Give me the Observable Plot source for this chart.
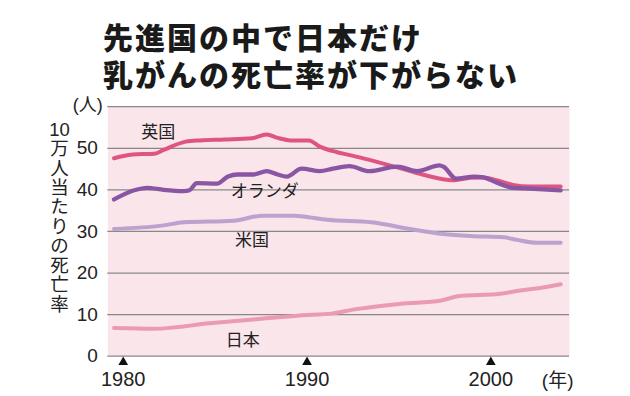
<!DOCTYPE html>
<html>
<head>
<meta charset="utf-8">
<script src="https://cdn.jsdelivr.net/npm/d3@7"></script>
<script src="https://cdn.jsdelivr.net/npm/@observablehq/plot@0.6"></script>
<style>
  html, body { margin: 0; padding: 0; background: #ffffff; }
  #wrap { width: 630px; height: 396px; position: relative; overflow: hidden; }
  #title {
    height: 95px; box-sizing: border-box; padding: 18px 0 0 103px;
    font-family: "Noto Sans CJK JP", sans-serif; font-weight: 900;
    font-size: 30px; color: #1a1a1a; letter-spacing: 2px;
  }
  #title div { height: 37px; line-height: 37px; white-space: nowrap; }
</style>
</head>
<body>
<div id="wrap">
  <div id="title"><div>先進国の中で日本だけ</div><div>乳がんの死亡率が下がらない</div></div>
  <div id="chart"></div>
</div>
<script>
// ---- data (deaths per 100,000) ----
const ukYear = [1979.5, 1980.5, 1981.7, 1982.2, 1983.4, 1984.2, 1985.5, 1987.0, 1987.8, 1988.4, 1989.1, 1990.1, 1990.7, 1991.6, 1992.4, 1993.4, 1994.5, 1995.8, 1996.7, 1997.9, 1998.9, 1999.6, 2000.3, 2001.2, 2002.1, 2003.8];
const ukRate = [47.6, 48.5, 48.7, 49.6, 51.6, 51.9, 52.1, 52.4, 53.3, 52.5, 51.9, 51.9, 50.4, 49.1, 48.3, 47.2, 45.9, 44.3, 43.2, 42.3, 42.9, 43.0, 42.3, 41.2, 40.8, 40.8];

const nlYear = [1979.5, 1980.6, 1981.3, 1982.2, 1983.3, 1983.6, 1984.0, 1985.1, 1985.7, 1986.2, 1987.1, 1987.8, 1988.4, 1988.9, 1989.7, 1990.7, 1991.4, 1992.3, 1993.4, 1994.9, 1996.0, 1997.2, 1997.45, 1998.1, 1999.1, 1999.6, 2000.3, 2001.2, 2002.1, 2003.8];
const nlRate = [37.7, 39.9, 40.5, 40.0, 39.7, 39.9, 41.6, 41.5, 43.2, 43.7, 43.7, 44.5, 43.7, 43.2, 45.1, 44.5, 45.1, 45.7, 44.5, 45.6, 44.5, 45.9, 45.5, 42.7, 43.2, 43.0, 41.8, 40.5, 40.3, 39.9];

const usYear = [1979.5, 1982.1, 1983.3, 1986.0, 1987.6, 1989.3, 1989.8, 1991.1, 1993.5, 1995.6, 1997.4, 1998.9, 2000.7, 2001.4, 2002.5, 2003.8];
const usRate = [30.6, 31.4, 32.2, 32.6, 33.8, 33.8, 33.6, 32.8, 32.2, 30.6, 29.4, 28.9, 28.6, 28.0, 27.3, 27.3];

const jpYear = [1979.5, 1981.7, 1984.7, 1987.5, 1989.6, 1991.4, 1992.5, 1995.1, 1997.3, 1998.2, 2000.5, 2001.6, 2002.7, 2003.8];
const jpRate = [6.8, 6.6, 7.9, 9.0, 9.8, 10.3, 11.2, 12.6, 13.4, 14.4, 15.0, 15.8, 16.4, 17.3];

const seriesNames = ["英国", "オランダ", "米国", "日本"];
const seriesColors = ["#de5581", "#8a56a3", "#bba2cf", "#eb9ab4"];
const xTicks = [1980, 1990, 2000];
const yTicks = [0, 10, 20, 30, 40, 50, 60];
const yTickLabels = [0, 10, 20, 30, 40, 50];
const yUnit = "(人)";
const xUnit = "(年)";
const yLabel = "10\n万\n人\n当\nた\nり\nの\n死\n亡\n率";
// label anchor points (data coordinates)
const labelYear = [1981.9, 1987.7, 1987.0, 1986.5];
const labelRate = [53.9, 39.5, 27.9, 3.7];

const toRows = (xs, ys) => xs.map((x, i) => ({x, y: ys[i]}));
const series = [toRows(ukYear, ukRate), toRows(nlYear, nlRate), toRows(usYear, usRate), toRows(jpYear, jpRate)];
const labels = seriesNames.map((name, i) => ({name, x: labelYear[i], y: labelRate[i]}));

const font = "'Liberation Sans', 'Noto Sans CJK JP', sans-serif";

const chart = Plot.plot({
  width: 630,
  height: 301,
  marginLeft: 107.3,
  marginRight: 61,
  marginTop: 11.2,
  marginBottom: 40.3,
  style: {fontFamily: font, fontSize: "18px", color: "#222", background: "transparent", overflow: "visible"},
  x: {domain: [1979.16, 2004.28]},
  y: {domain: [0, 60]},
  marks: [
    Plot.frame({fill: "#fae5eb", stroke: null}),
    Plot.ruleY(yTicks, {stroke: "#888", strokeWidth: 1.2}),
    Plot.axisY({ticks: yTickLabels, tickSize: 0, tickPadding: 10, fontSize: 19, label: null, tickFormat: d => String(d)}),
    Plot.axisX({ticks: xTicks, tickSize: 0, tickPadding: 16, fontSize: 20, label: null, tickFormat: d => String(d)}),
    Plot.dot(xTicks, {x: d => d, frameAnchor: "bottom", dy: 6, symbol: "triangle", r: 3.6, fill: "#111", stroke: null}),
    Plot.line(series[2], {x: "x", y: "y", stroke: seriesColors[2], strokeWidth: 4, curve: "monotone-x"}),
    Plot.line(series[3], {x: "x", y: "y", stroke: seriesColors[3], strokeWidth: 4, curve: "monotone-x"}),
    Plot.line(series[0], {x: "x", y: "y", stroke: seriesColors[0], strokeWidth: 4, curve: "monotone-x"}),
    Plot.line(series[1], {x: "x", y: "y", stroke: seriesColors[1], strokeWidth: 4.3, curve: "monotone-x"}),
    Plot.text(labels, {x: "x", y: "y", text: "name", fontSize: 17, fill: "#222", fontFamily: "'Noto Sans CJK JP', sans-serif"}),
    Plot.text([yLabel], {text: d => d, frameAnchor: "left", dx: -48.3, dy: -14.5, fontSize: 18.5, lineHeight: 1.05, fill: "#222", textAnchor: "middle"}),
    Plot.text([yUnit], {text: d => d, frameAnchor: "top-left", dx: -5, dy: -1, lineAnchor: "middle", textAnchor: "end", fontSize: 18, fill: "#222"}),
    Plot.text([xUnit], {text: d => d, frameAnchor: "bottom-right", dx: 4, dy: 24.3, lineAnchor: "middle", textAnchor: "end", fontSize: 19, fill: "#222"})
  ]
});
document.getElementById("chart").appendChild(chart);
</script>
</body>
</html>
